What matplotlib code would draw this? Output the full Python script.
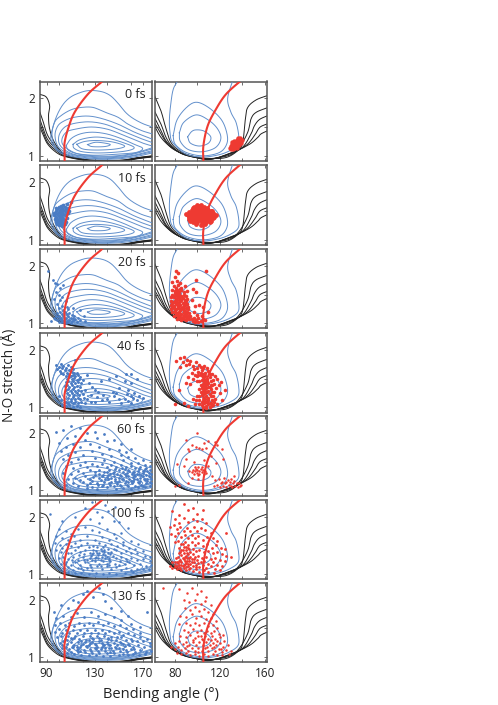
import numpy as np
import matplotlib
matplotlib.use("Agg")
import matplotlib.pyplot as plt
from matplotlib.ticker import MultipleLocator

plt.rcParams['font.family'] = ['Open Sans', 'DejaVu Sans']

BLUE = '#6290cc'
DOT_BLUE = '#4a7cc4'
RED = '#ee3a32'
FRAME = '#555555'

times = ['0 fs', '10 fs', '20 fs', '40 fs', '60 fs', '100 fs', '130 fs']
left_ticks = [90, 130, 170]
right_ticks = [80, 120, 160]

# ---- seam curves
seam_left = [(105,.9),(105,1.1),(105,1.23),(107.75,1.46),(113.3,1.754),(124.4,2.07),(135.5,2.276),(137,2.31)]
seam_right = [(105.5,.9),(105.5,1.175),(109.3,1.52),(116.7,1.81),(125.6,2.07),(138,2.29),(140,2.31)]

# ---- left surface: black
left_black = [
 [(84,2.07),(89.7,2.02),(92.5,1.87),(91.6,1.70),(92.5,1.47),(96.6,1.23),(105,1.03),(118.9,.95),(130,.925),(152,.925),(166,.97),(178,1.0)],
 [(84,1.78),(87,1.6),(91,1.35),(98,1.15),(105,1.025),(118.9,.945),(130,.92),(152,.92),(166,.965),(178,.995)],
 [(84,1.66),(87,1.48),(91,1.28),(98,1.12),(105,1.015),(118.9,.94),(130,.915),(152,.915),(166,.96),(178,.99)],
 [(84,1.58),(87,1.42),(91,1.23),(98,1.09),(105,1.0),(118.9,.935),(130,.91),(152,.91),(166,.955),(178,.985)],
 [(84,1.52),(87,1.37),(91,1.2),(98,1.06),(105,.99),(118.9,.93),(130,.905),(152,.905),(166,.95),(178,.98)],
]
# ---- left surface: blue
left_blue = [
 [(178,1.05),(160,.97),(140,.94),(120,.96),(105,1.02),(97,1.13),(93.5,1.3),(95.3,1.5),(99,1.72),(104,1.9),(110,2.02),(117,2.09),(124,2.13),(131,2.13),(138,2.10),(144,2.03),(150,1.90),(156,1.75),(162,1.65),(170,1.56),(178,1.50)],
 [(178,1.07),(160,.99),(140,.95),(122,.97),(107,1.03),(98,1.14),(94.5,1.35),(96.6,1.58),(102.2,1.70),(110.5,1.80),(118.9,1.84),(128.6,1.84),(138.3,1.76),(149.4,1.67),(157.8,1.55),(168.9,1.44),(178,1.38)],
 [(178,1.09),(160,1.0),(140,.965),(125,.98),(110,1.03),(100,1.15),(97,1.35),(99.4,1.52),(105,1.61),(113.3,1.67),(124.4,1.69),(135.5,1.65),(149.4,1.55),(163.3,1.41),(178,1.29)],
 [(178,1.12),(160,1.02),(142,.98),(127,.99),(112,1.03),(102,1.16),(100,1.32),(103.6,1.47),(110.5,1.55),(124.4,1.59),(138.3,1.55),(152.2,1.44),(166,1.32),(178,1.23)],
 [(178,1.14),(162,1.04),(145,.995),(130,1.0),(115,1.04),(104.5,1.17),(102.8,1.29),(106.4,1.41),(113.3,1.46),(127.2,1.50),(141,1.46),(155,1.35),(168.9,1.23),(178,1.17)],
 [(106.4,1.18),(110.5,1.30),(118,1.38),(128,1.41),(140,1.38),(152,1.30),(163,1.2),(170,1.13),(165,1.06),(150,1.03),(130,1.01),(115,1.04),(108,1.10),(106.4,1.18)],
 [(112,1.2),(118,1.28),(130,1.325),(142,1.30),(155,1.22),(163,1.14),(155,1.08),(135,1.05),(120,1.07),(113,1.13),(112,1.2)],
 [(115,1.2),(122,1.25),(132,1.265),(145,1.24),(155,1.17),(148,1.12),(132,1.10),(120,1.12),(115,1.2)],
 [(124,1.195),(131,1.235),(140,1.215),(143,1.19),(138,1.16),(128,1.16),(124,1.195)],
]
# ---- right surface: black
right_black = [
 [(62,2.05),(67.8,1.78),(72.3,1.47),(76.7,1.23),(84.1,1.09),(96,.99),(110.8,.955),(125.6,.97),(136,1.09),(140.4,1.23),(142.8,1.64),(144.9,1.84),(152.3,1.97),(163,2.05)],
 [(62,1.78),(67.8,1.55),(72.3,1.32),(78.2,1.15),(87.1,1.03),(99,.97),(110.8,.95),(128.6,1.01),(137.5,1.15),(144.9,1.41),(147.8,1.64),(152.3,1.754),(163,1.84)],
 [(62,1.67),(67.8,1.44),(72.3,1.26),(79.7,1.12),(90.1,1.01),(110.8,.945),(128.6,1.03),(140.4,1.15),(147.8,1.38),(150.8,1.52),(155.3,1.63),(163,1.7)],
 [(62,1.58),(67.8,1.38),(73.8,1.2),(81.2,1.09),(93,1.0),(110.8,.94),(130,1.05),(143.4,1.18),(150.8,1.35),(153.8,1.45),(156.7,1.51),(163,1.56)],
 [(62,1.52),(67.8,1.32),(75.3,1.17),(84.1,1.06),(96,.995),(110.8,.935),(131.5,1.06),(146.4,1.2),(153.8,1.32),(156.7,1.38),(163,1.44)],
]
# ---- right surface: blue
right_blue = [
 [(83,2.31),(78.8,2.16),(76.7,1.93),(75.3,1.64),(75.8,1.41),(78.2,1.23),(90,1.03),(104.9,.98),(119.7,1.02),(130,1.1),(136.3,1.2),(136.9,1.35),(134.5,1.58),(130,1.754),(127,1.986),(131,2.276),(132,2.31)],
 [(78.6,1.35),(82,1.62),(90,1.83),(99,1.93),(110,1.84),(121,1.64),(126,1.42),(126.5,1.22),(120,1.06),(105,1.0),(90,1.06),(80.5,1.2),(78.6,1.35)],
 [(84.1,1.4),(88,1.58),(99,1.71),(110,1.62),(118,1.47),(121,1.3),(116,1.14),(104,1.07),(92,1.11),(85,1.25),(84.1,1.4)],
 [(91.5,1.33),(95,1.42),(99,1.45),(106,1.43),(112,1.33),(110,1.22),(102,1.17),(94,1.22),(91.5,1.33)],
]

# ---- scatter clouds (bending angle, N-O stretch)
R0 = [(129,1.13),(130,1.11),(131,1.14),(130,1.17),(132,1.12),(133,1.14),(132,1.18),(134,1.17),(131,1.2),(133,1.22),(135,1.2),(136,1.18),(134,1.24),(136,1.26),(137,1.23),(138,1.25),(135,1.28),(137,1.29),(139,1.28),(140,1.27),(138,1.31),(136,1.31),(134,1.15),(135,1.13),(137,1.19),(139,1.22),(133,1.26),(131,1.24)]
B10 = [(96,1.42),(97,1.36),(97,1.47),(98,1.3),(98,1.4),(98,1.5),(99,1.27),(99,1.36),(99,1.44),(99,1.53),(100,1.25),(100,1.33),(100,1.41),(100,1.48),(100,1.56),(101,1.29),(101,1.38),(101,1.46),(101,1.52),(102,1.26),(102,1.34),(102,1.43),(102,1.5),(102,1.58),(103,1.24),(103,1.31),(103,1.39),(103,1.47),(103,1.55),(104,1.28),(104,1.36),(104,1.44),(104,1.52),(104,1.6),(105,1.27),(105,1.33),(105,1.42),(105,1.49),(105,1.56),(106,1.3),(106,1.45),(106,1.53),(107,1.38),(107,1.5),(107,1.62),(108,1.46),(108,1.55),(109,1.5),(110,1.66),(98,1.55),(96,1.47),(97.5,1.33)]
R10 = [(99,1.27),(103,1.26),(107,1.28),(96,1.3),(100,1.31),(104,1.3),(108,1.3),(111,1.31),(94,1.33),(97,1.34),(100,1.33),(103,1.34),(106,1.33),(109,1.34),(112,1.33),(93,1.36),(96,1.37),(99,1.36),(102,1.37),(105,1.36),(108,1.37),(111,1.36),(114,1.37),(93,1.39),(95,1.4),(98,1.39),(101,1.4),(104,1.39),(107,1.4),(110,1.39),(113,1.4),(115,1.39),(92,1.42),(95,1.43),(98,1.42),(101,1.43),(104,1.42),(107,1.43),(110,1.42),(113,1.43),(115,1.42),(93,1.45),(96,1.46),(99,1.45),(102,1.46),(105,1.45),(108,1.46),(111,1.45),(114,1.46),(93,1.48),(96,1.49),(99,1.48),(102,1.49),(105,1.48),(108,1.49),(111,1.48),(113,1.49),(95,1.51),(98,1.52),(101,1.51),(104,1.52),(107,1.51),(110,1.52),(96,1.54),(100,1.55),(103,1.54),(106,1.55),(109,1.54),(99,1.57),(102,1.58),(106,1.57),(103,1.6),(97,1.57),(112,1.5),(117,1.42),(90,1.44),(100,1.6)]
B20 = [(91,1.9),(95,1.75),(97,1.7),(99,1.68),(101,1.62),(104,1.66),(98,1.55),(100,1.5),(103,1.46),(96,1.42),(101,1.4),(106,1.38),(99,1.33),(103,1.3),(107,1.28),(100,1.26),(104,1.23),(108,1.24),(112,1.26),(118,1.23),(99,1.18),(101,1.2),(103,1.17),(105,1.19),(107,1.16),(109,1.18),(111,1.15),(113,1.13),(98,1.13),(100,1.12),(102,1.1),(104,1.13),(106,1.1),(108,1.12),(110,1.09),(112,1.1),(114,1.08),(116,1.1),(97,1.08),(99,1.06),(101,1.07),(103,1.05),(105,1.07),(107,1.04),(109,1.06),(111,1.04),(113,1.05),(115,1.03),(100,1.03),(102,1.02),(104,1.02),(106,1.0),(108,1.02),(110,1.0),(96,1.1),(118,1.06),(122,1.04),(121,1.12),(94,1.04)]
R20 = [(81,1.9),(83,1.87),(80,1.8),(78,1.72),(82,1.74),(85,1.7),(79,1.65),(81,1.62),(83,1.66),(86,1.62),(89,1.64),(78,1.58),(80,1.56),(82,1.58),(84,1.55),(86,1.57),(88,1.54),(91,1.56),(78,1.5),(80,1.52),(82,1.49),(84,1.51),(86,1.48),(88,1.5),(90,1.47),(77,1.45),(79,1.46),(81,1.43),(83,1.45),(85,1.42),(87,1.44),(89,1.41),(91,1.43),(77,1.39),(79,1.37),(81,1.39),(83,1.36),(85,1.38),(87,1.35),(89,1.37),(91,1.34),(77,1.32),(79,1.3),(81,1.33),(83,1.3),(85,1.32),(87,1.29),(89,1.31),(92,1.29),(77,1.25),(79,1.27),(81,1.24),(83,1.26),(85,1.23),(87,1.25),(89,1.22),(92,1.24),(78,1.19),(80,1.2),(82,1.18),(84,1.2),(86,1.17),(88,1.19),(90,1.16),(93,1.18),(79,1.13),(81,1.15),(83,1.12),(85,1.14),(87,1.11),(89,1.13),(91,1.1),(94,1.12),(97,1.1),(82,1.08),(84,1.09),(86,1.06),(88,1.08),(90,1.05),(93,1.07),(96,1.04),(99,1.06),(101,1.09),(103,1.04),(105,1.07),(107,1.05),(97,1.19),(100,1.15),(104,1.13),(99,1.75),(108,1.9),(96,1.6),(99,1.55),(102,1.32),(98,1.3),(105,1.28),(110,1.2),(95,1.4),
 (80,1.48),(82,1.41),(84,1.34),(86,1.27),(88,1.2),(90,1.38),(78,1.35),(78,1.28),(80,1.22),(82,1.15),(84,1.1),(86,1.1),(88,1.14),(90,1.26),(88,1.32),(86,1.4),(84,1.46),(82,1.53),(85,1.6),(80,1.38),(91,1.2),(92,1.13),(95,1.08),(98,1.02),(101,1.03)]
B40 = [(98,1.74),(100,1.7),(102,1.76),(104,1.72),(106,1.68),(108,1.74),(110,1.7),(112,1.66),(114,1.82),(99,1.66),(101,1.63),(103,1.68),(105,1.64),(107,1.6),(109,1.65),(111,1.62),(113,1.6),(115,1.6),(102,1.59),(104,1.57),(106,1.55),(108,1.58),(110,1.55),(112,1.56),(114,1.54),(116,1.56),(118,1.52),(107,1.5),(109,1.52),(111,1.49),(113,1.51),(115,1.48),(117,1.5),(120,1.47),(106,1.44),(108,1.46),(110,1.43),(112,1.45),(114,1.42),(116,1.44),(119,1.42),(105,1.37),(107,1.39),(109,1.36),(111,1.38),(113,1.35),(115,1.37),(118,1.35),(106,1.3),(108,1.32),(110,1.29),(112,1.31),(114,1.28),(116,1.3),(119,1.28),(122,1.3),(107,1.24),(109,1.22),(111,1.25),(113,1.22),(115,1.24),(117,1.21),(120,1.23),(108,1.17),(110,1.15),(112,1.18),(114,1.15),(116,1.17),(118,1.14),(121,1.16),(124,1.14),(106,1.1),(108,1.08),(110,1.11),(112,1.08),(114,1.1),(116,1.07),(119,1.09),(122,1.07),(127,1.09),(103,1.04),(106,1.02),(109,1.04),(112,1.01),(115,1.03),(118,1.0),(102,1.12),(100,1.2),(125,1.42),(128,1.35),(124,1.56),(130,1.3),(135,1.46),(142,1.5),(148,1.54),(155,1.46),(160,1.42),(156,1.58),(160,1.57),(165,1.5),(158,1.3),(150,1.34),(145,1.27),(137,1.22),(132,1.18),(140,1.15),(146,1.2),(142,1.1),(136,1.12),(130,1.1),(150,1.14),(152,1.08),(155,1.15),(158,1.11),(160,1.07),(162,1.16),(165,1.12),(167,1.2),(170,1.17),(160,1.2),(157,1.23),(163,1.25),(148,1.25),(127,1.22),(133,1.27)]
R40 = [(81,1.8),(85,1.86),(88,1.88),(91,1.83),(94,1.8),(87,1.78),(90,1.74),(93,1.76),(96,1.72),(99,1.78),(102,1.74),(85,1.7),(97,1.66),(100,1.68),(103,1.7),(106,1.72),(109,1.68),(95,1.6),(98,1.56),(101,1.62),(104,1.64),(107,1.6),(110,1.63),(113,1.58),(116,1.55),(92,1.52),(96,1.5),(100,1.54),(103,1.56),(105,1.52),(107,1.55),(109,1.5),(111,1.53),(114,1.48),(118,1.5),(121,1.44),(90,1.42),(94,1.4),(102,1.46),(104,1.48),(106,1.44),(108,1.47),(110,1.43),(112,1.46),(115,1.41),(119,1.38),(103,1.39),(105,1.41),(107,1.37),(109,1.4),(111,1.36),(113,1.39),(117,1.33),(84,1.3),(102,1.32),(104,1.34),(106,1.3),(108,1.33),(110,1.29),(112,1.32),(115,1.27),(120,1.25),(103,1.26),(105,1.28),(107,1.24),(109,1.27),(111,1.23),(113,1.26),(100,1.2),(102,1.19),(104,1.21),(106,1.17),(108,1.2),(110,1.16),(112,1.19),(116,1.15),(122,1.12),(96,1.14),(99,1.12),(102,1.13),(104,1.1),(106,1.13),(108,1.09),(110,1.12),(112,1.08),(115,1.1),(118,1.05),(102,1.06),(104,1.04),(106,1.07),(108,1.03),(110,1.05),(112,1.02),(114,1.04),(105,1.0),(108,.98),(111,1.0),(88,1.08),(80,1.06),(92,1.02),(98,1.05),(125,1.3),
 (103,1.6),(105,1.57),(106,1.49),(108,1.42),(110,1.35),(104,1.37),(105,1.23),(107,1.15),(109,1.1),(111,1.07),(113,1.13),(114,1.2),(112,1.38),(107,1.28),(109,1.45),(111,1.58),(105,1.68),(101,1.56),(100,1.46)]
B60 = [(98,2.01),(104,2.05),(110,2.12),(118,2.08),(124,2.0),(130,2.02),(138,1.98),(107,1.9),(114,1.95),(122,1.88),(132,1.9),(140,1.85),(146,1.88),(152,1.8),(100,1.82),(106,1.76),(112,1.8),(118,1.76),(126,1.8),(134,1.76),(142,1.72),(150,1.7),(156,1.66),(160,1.72),(102,1.68),(108,1.62),(114,1.66),(120,1.62),(128,1.68),(136,1.63),(144,1.6),(152,1.62),(158,1.58),(164,1.56),(170,1.52),(104,1.54),(110,1.5),(116,1.55),(122,1.5),(130,1.56),(138,1.52),(146,1.5),(154,1.53),(160,1.48),(166,1.47),(172,1.44),(176,1.42),(106,1.42),(112,1.38),(118,1.44),(124,1.4),(128,1.46),(132,1.42),(136,1.46),(140,1.41),(144,1.44),(148,1.4),(152,1.44),(156,1.4),(160,1.42),(164,1.38),(168,1.41),(172,1.37),(176,1.36),(104,1.3),(110,1.28),(116,1.33),(120,1.3),(126,1.35),(130,1.32),(134,1.36),(138,1.32),(142,1.36),(146,1.32),(150,1.35),(154,1.31),(158,1.35),(162,1.31),(166,1.34),(170,1.3),(174,1.33),(177,1.29),(108,1.2),(114,1.22),(118,1.18),(122,1.24),(126,1.2),(130,1.26),(134,1.22),(137,1.27),(140,1.23),(143,1.28),(146,1.24),(149,1.28),(152,1.24),(155,1.28),(158,1.24),(161,1.28),(164,1.24),(167,1.28),(170,1.24),(173,1.27),(176,1.23),(106,1.1),(112,1.12),(116,1.08),(120,1.14),(124,1.1),(128,1.16),(132,1.12),(135,1.18),(138,1.14),(141,1.19),(144,1.15),(147,1.2),(150,1.16),(153,1.2),(156,1.16),(159,1.2),(162,1.16),(165,1.2),(168,1.16),(171,1.2),(174,1.16),(177,1.19),(124,1.04),(128,1.06),(132,1.03),(136,1.08),(140,1.05),(143,1.1),(146,1.07),(149,1.11),(152,1.08),(155,1.12),(158,1.08),(161,1.12),(164,1.08),(167,1.12),(170,1.08),(173,1.12),(176,1.08),(148,1.02),(154,1.04),(160,1.03),(166,1.05),(172,1.05),(177,1.12),(137,1.1),(145,1.3),(151,1.1),(157,1.3),(163,1.2),(169,1.1),(175,1.25),(163,1.32),(171,1.33),(158,1.15),(149,1.14),(141,1.27),(153,1.38),(167,1.37),(174,1.2),
 (134,1.29),(139,1.19),(147,1.16),(151,1.27),(154,1.19),(156,1.24),(159,1.33),(160,1.16),(162,1.23),(165,1.29),(168,1.22),(170,1.34),(172,1.18),(175,1.3),(176,1.15),(173,1.39),(169,1.27),(166,1.14),(163,1.26),(157,1.1),(155,1.37),(150,1.22),(147,1.37),(144,1.21),(142,1.13),(140,1.32),(136,1.24),(133,1.1),(129,1.23),(126,1.13)]
R60 = [(93,1.34),(95,1.31),(96,1.36),(97,1.29),(98,1.33),(99,1.37),(100,1.3),(100,1.35),(101,1.41),(102,1.33),(102,1.28),(103,1.37),(104,1.31),(105,1.35),(106,1.29),(107,1.33),(98,1.4),(104,1.4),(101,1.27),(108,1.3),(88,1.42),(84,1.1),(80,1.07),(82,1.46),(92,1.12),(90,1.55),(95,1.22),(97,1.5),(101,1.2),(106,1.52),(110,1.42),(113,1.25),(95,1.78),(93,1.68),(90,1.88),(92,1.72),(100,2.0),(99,1.76),(102,1.73),(104,1.72),(106,1.82),(110,1.86),(116,1.84),(118,1.78),(122,1.72),(112,1.6),(117,1.48),(123,1.55),(108,1.74),(116,1.18),(118,1.1),(119,1.2),(120,1.06),(122,1.15),(123,1.08),(124,1.22),(125,1.12),(126,1.06),(127,1.18),(128,1.1),(129,1.14),(130,1.08),(130,1.2),(131,1.05),(132,1.12),(133,1.17),(134,1.08),(135,1.13),(136,1.06),(137,1.12),(138,1.08),(139,1.1),(121,1.12),(126,1.14),(133,1.24),(115,1.08)]
B100 = [(93,2.05),(103,1.92),(114,2.0),(122,2.15),(128,2.25),(132,2.08),(136,2.0),(139,2.2),(141,2.1),(147,2.17),(126,1.95),(134,1.88),(146,1.93),(150,1.9),(158,1.8),(100,1.78),(106,1.74),(110,1.7),(116,1.78),(122,1.82),(128,1.76),(134,1.73),(140,1.79),(146,1.7),(152,1.72),(98,1.66),(103,1.62),(108,1.6),(113,1.66),(118,1.6),(124,1.66),(130,1.6),(136,1.64),(142,1.6),(148,1.62),(154,1.56),(160,1.58),(166,1.52),(97,1.54),(101,1.5),(106,1.53),(110,1.48),(114,1.54),(119,1.5),(124,1.54),(129,1.48),(134,1.54),(139,1.5),(144,1.53),(149,1.48),(154,1.5),(159,1.46),(164,1.44),(170,1.4),(98,1.42),(102,1.38),(106,1.42),(110,1.36),(114,1.42),(118,1.38),(122,1.42),(126,1.37),(129,1.42),(132,1.37),(135,1.43),(138,1.38),(141,1.43),(144,1.38),(148,1.41),(152,1.37),(156,1.4),(160,1.36),(165,1.36),(172,1.32),(176,1.3),(100,1.28),(104,1.3),(108,1.26),(112,1.3),(116,1.25),(120,1.3),(124,1.25),(127,1.31),(130,1.27),(133,1.33),(136,1.29),(139,1.33),(142,1.28),(145,1.32),(148,1.27),(152,1.3),(156,1.26),(160,1.28),(165,1.25),(170,1.26),(176,1.22),(102,1.18),(106,1.2),(110,1.16),(114,1.2),(118,1.15),(122,1.2),(126,1.16),(130,1.22),(134,1.17),(137,1.23),(140,1.18),(143,1.23),(147,1.18),(151,1.22),(155,1.17),(159,1.2),(163,1.15),(168,1.18),(173,1.14),(177,1.16),(104,1.1),(108,1.12),(112,1.07),(116,1.11),(120,1.06),(124,1.11),(128,1.07),(132,1.13),(136,1.08),(140,1.13),(144,1.08),(148,1.12),(152,1.07),(156,1.11),(160,1.07),(165,1.09),(170,1.08),(175,1.09),(108,1.04),(114,1.02),(119,1.02),(125,1.0),(131,1.02),(137,1.0),(142,1.02),(148,1.0),(155,1.02),(162,1.03),(128,1.34),(131,1.3),(134,1.37),(137,1.34),(140,1.3),(143,1.35),(129,1.36),(133,1.28),(139,1.27),(136,1.4),
 (126,1.28),(128,1.24),(131,1.4),(135,1.25),(138,1.42),(141,1.36),(132,1.47),(137,1.47),(142,1.25),(146,1.44),(125,1.47),(121,1.35),(117,1.33),(111,1.24),(108,1.36),(105,1.18),(103,1.46),(116,1.47),(121,1.25),(119,1.1),(127,1.12),(135,1.13),(142,1.15),(150,1.15),(157,1.23)]
R100 = [(78,2.1),(84,2.03),(88,2.22),(92,2.12),(96,2.15),(100,2.05),(105,2.12),(80,1.95),(84,1.88),(88,1.98),(92,1.9),(96,1.96),(100,1.92),(104,1.95),(108,1.88),(76,1.82),(79,1.86),(82,1.78),(85,1.82),(88,1.74),(91,1.8),(94,1.74),(97,1.82),(100,1.75),(103,1.8),(107,1.76),(112,1.72),(126,1.72),(77,1.7),(80,1.66),(83,1.72),(86,1.65),(89,1.68),(92,1.62),(95,1.68),(98,1.62),(101,1.66),(105,1.6),(109,1.64),(114,1.62),(118,1.58),(80,1.55),(83,1.58),(86,1.52),(89,1.56),(92,1.5),(95,1.55),(98,1.5),(101,1.54),(105,1.48),(109,1.52),(113,1.46),(117,1.5),(121,1.46),(125,1.44),(84,1.46),(86,1.42),(88,1.47),(90,1.41),(92,1.45),(94,1.39),(96,1.44),(99,1.4),(102,1.42),(106,1.38),(110,1.4),(114,1.36),(118,1.38),(122,1.34),(126,1.32),(130,1.3),(84,1.36),(86,1.33),(88,1.37),(90,1.32),(92,1.35),(94,1.3),(96,1.34),(98,1.29),(101,1.32),(104,1.28),(108,1.3),(112,1.26),(116,1.28),(120,1.24),(125,1.22),(81,1.27),(83,1.3),(85,1.25),(87,1.28),(89,1.23),(91,1.27),(93,1.22),(95,1.26),(97,1.21),(100,1.24),(103,1.2),(106,1.22),(110,1.18),(114,1.2),(118,1.16),(122,1.14),(78,1.2),(80,1.16),(82,1.2),(84,1.15),(86,1.2),(88,1.15),(90,1.19),(92,1.14),(94,1.18),(96,1.13),(99,1.16),(102,1.12),(105,1.15),(108,1.11),(112,1.13),(116,1.09),(120,1.07),(76,1.14),(78,1.1),(80,1.12),(82,1.08),(84,1.11),(86,1.07),(88,1.11),(90,1.06),(93,1.09),(96,1.05),(99,1.08),(102,1.04),(106,1.06),(110,1.03),(115,1.02),(87,1.13),(91,1.22),(83,1.19),(85,1.1),(89,1.18),
 (85,1.39),(87,1.42),(89,1.3),(91,1.36),(93,1.27),(95,1.2),(92,1.18),(90,1.12),(88,1.26),(86,1.16),(84,1.22),(82,1.13),(80,1.2),(94,1.1),(97,1.26),(99,1.12),(101,1.19),(93,1.43),(87,1.52),(90,1.47)]
B130 = [(96,1.78),(102,1.9),(108,1.85),(112,2.0),(116,1.95),(120,2.1),(124,2.15),(129,2.05),(134,2.2),(137,2.1),(139,1.98),(144,1.85),(152,1.8),(158,1.72),(174,1.78),(98,1.68),(104,1.72),(110,1.7),(115,1.76),(121,1.7),(127,1.78),(133,1.72),(139,1.75),(146,1.7),(152,1.64),(160,1.58),(168,1.52),(97,1.56),(101,1.6),(105,1.55),(109,1.6),(113,1.54),(117,1.6),(121,1.55),(125,1.6),(129,1.55),(133,1.61),(137,1.55),(141,1.6),(146,1.54),(151,1.55),(156,1.5),(162,1.48),(168,1.42),(97,1.44),(100,1.48),(103,1.42),(106,1.47),(109,1.41),(112,1.47),(115,1.42),(118,1.47),(121,1.41),(124,1.47),(127,1.42),(130,1.47),(133,1.41),(136,1.47),(139,1.42),(142,1.46),(146,1.41),(150,1.44),(154,1.39),(158,1.42),(163,1.38),(168,1.34),(174,1.32),(99,1.34),(102,1.37),(105,1.32),(108,1.37),(111,1.31),(114,1.36),(117,1.31),(120,1.36),(123,1.3),(126,1.36),(129,1.31),(132,1.36),(135,1.3),(138,1.36),(141,1.31),(144,1.35),(148,1.3),(152,1.34),(156,1.29),(160,1.32),(165,1.27),(170,1.28),(176,1.25),(101,1.24),(104,1.27),(107,1.22),(110,1.26),(113,1.21),(116,1.26),(119,1.21),(122,1.26),(125,1.2),(128,1.26),(131,1.21),(134,1.27),(137,1.21),(140,1.26),(143,1.2),(146,1.25),(149,1.2),(152,1.24),(155,1.19),(158,1.23),(162,1.18),(166,1.21),(171,1.17),(176,1.19),(103,1.15),(106,1.18),(109,1.13),(112,1.17),(115,1.12),(118,1.17),(121,1.12),(124,1.17),(127,1.11),(130,1.16),(133,1.11),(136,1.17),(139,1.11),(142,1.16),(145,1.11),(148,1.15),(151,1.1),(154,1.14),(157,1.09),(160,1.13),(164,1.09),(168,1.12),(173,1.09),(177,1.11),(107,1.07),(110,1.09),(113,1.05),(116,1.08),(119,1.04),(122,1.08),(125,1.03),(128,1.07),(131,1.03),(134,1.07),(137,1.02),(140,1.07),(143,1.02),(146,1.06),(150,1.03),(154,1.05),(158,1.03),(162,1.05),(167,1.04),(172,1.05),(130,1.23),(135,1.14),(126,1.14),(141,1.33),(120,1.22),(144,1.15),(115,1.18),(138,1.2),
 (107,1.3),(111,1.18),(113,1.33),(116,1.14),(119,1.27),(123,1.19),(126,1.24),(128,1.33),(131,1.13),(134,1.33),(136,1.24),(139,1.15),(141,1.23),(144,1.29),(147,1.18),(149,1.34),(151,1.26),(154,1.22),(156,1.12),(159,1.2),(161,1.27),(163,1.14),(103,1.21),(110,1.33),(118,1.1),(125,1.29),(132,1.18),(143,1.08),(150,1.15)]
R130 = [(70,2.2),(84,2.18),(91,2.12),(95,2.2),(100,2.1),(103,2.15),(108,2.05),(88,2.0),(93,1.95),(98,2.0),(103,1.92),(107,1.97),(112,1.9),(89,1.85),(94,1.82),(98,1.87),(102,1.8),(106,1.84),(110,1.78),(114,1.74),(85,1.72),(90,1.7),(95,1.74),(99,1.68),(103,1.72),(108,1.66),(112,1.68),(117,1.62),(84,1.58),(90,1.6),(94,1.56),(98,1.6),(102,1.55),(106,1.59),(110,1.54),(114,1.56),(118,1.5),(88,1.47),(92,1.44),(96,1.48),(100,1.43),(103,1.47),(106,1.42),(109,1.46),(112,1.42),(115,1.45),(119,1.4),(123,1.38),(85,1.36),(90,1.34),(94,1.38),(98,1.33),(101,1.37),(104,1.32),(107,1.37),(110,1.32),(113,1.36),(116,1.31),(120,1.34),(124,1.28),(80,1.24),(84,1.27),(87,1.22),(90,1.26),(93,1.21),(96,1.26),(99,1.21),(102,1.26),(105,1.2),(108,1.26),(111,1.21),(114,1.25),(117,1.2),(120,1.24),(123,1.18),(127,1.2),(77,1.18),(80,1.14),(83,1.17),(86,1.12),(89,1.16),(92,1.11),(95,1.16),(98,1.1),(101,1.15),(104,1.1),(107,1.16),(110,1.11),(113,1.15),(116,1.1),(119,1.14),(122,1.09),(126,1.12),(130,1.1),(82,1.07),(86,1.05),(90,1.07),(94,1.03),(98,1.05),(102,1.02),(106,1.05),(110,1.02),(114,1.05),(118,1.03),(122,1.04),(128,1.05),(105,1.29),(109,1.18),(112,1.3),(103,1.37),(101,1.09),(96,1.3),(91,1.19),(115,1.18),(118,1.27),(121,1.14)]

cloud_left = [[], B10, B20, B40, B60, B100, B130]
cloud_right = [R0, R10, R20, R40, R60, R100, R130]
size_left = [0, 7, 4, 4.5, 4, 3.2, 4]
size_right = [10, 12, 7, 6.5, 3.2, 4, 3.2]

# pixel layout of the rows (top, bottom)
rows = [(81.5,161),(165,245),(249,328.5),(333,412.5),(416,495.5),(500,579),(583,662)]
W, H = 498, 705

def smooth(pts, n=12):
    """Catmull-Rom rendering of a digitised contour."""
    p = np.asarray(pts, float)
    q = np.vstack([2*p[0]-p[1], p, 2*p[-1]-p[-2]])
    out = []
    t = np.linspace(0, 1, n, endpoint=False)[:, None]
    for i in range(1, len(q)-2):
        a, b, c, d = q[i-1], q[i], q[i+1], q[i+2]
        out.append(.5*((2*b)+(c-a)*t+(2*a-5*b+4*c-d)*t**2+(3*b-a-3*c+d)*t**3))
    out.append(p[-1:])
    return np.vstack(out)

def panel(rect, black, blue, seam, cloud, xlim, major, minor, color, size):
    ax = fig.add_axes(rect)
    for c in black:
        s = smooth(c); ax.plot(s[:,0], s[:,1], color='#222222', lw=0.7, zorder=2)
    for c in blue:
        s = smooth(c); ax.plot(s[:,0], s[:,1], color=BLUE, lw=0.7, zorder=3)
    if cloud:
        a = np.array(cloud)
        ax.scatter(a[:,0], a[:,1], s=size, color=color, lw=0, zorder=4)
    s = smooth(seam)
    ax.plot(s[:,0], s[:,1], color=RED, lw=1.5, zorder=5, solid_capstyle='butt')
    ax.set_xlim(*xlim); ax.set_ylim(0.91, 2.29)
    ax.set_xticks(major); ax.xaxis.set_minor_locator(MultipleLocator(minor))
    ax.set_yticks([1, 2]); ax.yaxis.set_minor_locator(MultipleLocator(0.5))
    ax.tick_params(which='both', direction='in', top=True, right=True, length=2,
                   width=0.6, color=FRAME, labelsize=8.5, pad=3.5, labelcolor='#222222')
    ax.tick_params(labelbottom=False, labelleft=False)
    for sp in ax.spines.values():
        sp.set_color(FRAME); sp.set_linewidth(1.1)
    return ax

fig = plt.figure(figsize=(W/100, H/100), dpi=100)
for i, (t, b) in enumerate(rows):
    rl = [40/W, 1-b/H, 112/W, (b-t)/H]
    rr = [155/W, 1-b/H, 112/W, (b-t)/H]
    axl = panel(rl, left_black, left_blue, seam_left, cloud_left[i], (84.5,177.8), left_ticks, 20, DOT_BLUE, size_left[i])
    axr = panel(rr, right_black, right_blue, seam_right, cloud_right[i], (62.5,162), right_ticks, 20, RED, size_right[i])
    axl.text(0.94, 0.835, times[i], transform=axl.transAxes, ha='right', va='center',
             fontsize=9, color='#222222', zorder=6)
    axl.tick_params(labelleft=True)
    if i == len(rows)-1:
        axl.tick_params(labelbottom=True)
        axr.tick_params(labelbottom=True)

fig.text(161/W, 1-695/H, 'Bending angle (°)', ha='center', va='center', fontsize=10.5, color='#222222')
fig.text(9/W, 1-375/H, 'N-O stretch (Å)', ha='center', va='center', rotation=90, fontsize=9.8, color='#222222')
fig.savefig('out.png', dpi=100)
